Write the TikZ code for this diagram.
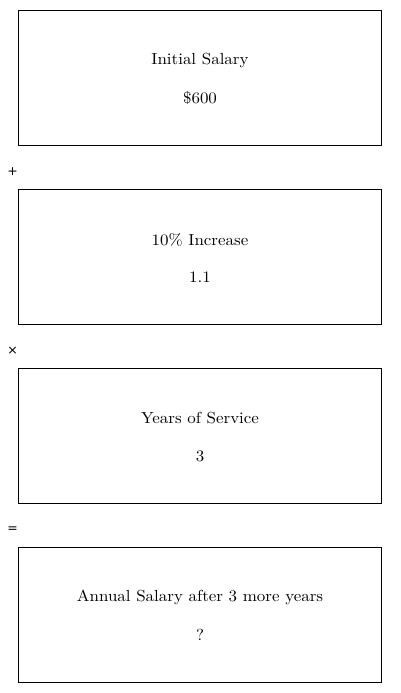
\documentclass[tikz,border=0pt]{standalone}
\usepackage{fontspec}
\newfontfamily\boxfont{lmroman10-regular.otf}[FakeStretch=1.06]
\newfontfamily\opfont{DejaVu Sans}
\begin{document}
\begin{tikzpicture}[x=1pt,y=1pt,
  box/.style={draw,line width=1pt,minimum width=363pt,minimum height=135pt,anchor=north west,inner sep=0pt},
  txt/.style={font=\boxfont\fontsize{16}{19}\selectfont},
  op/.style={font=\opfont\fontsize{12.5}{14}\selectfont}]
\useasboundingbox (0,0) rectangle (400,693);
\node[box] (b1) at (18,683) {};
\node[box] (b2) at (18,504) {};
\node[box] (b3) at (18,325) {};
\node[box] (b4) at (18,146) {};
\node[txt] (t1a) at ([yshift=17.5pt]b1.center) {Initial Salary};
\node[txt] (t1b) at ([yshift=-20pt]b1.center) {\$600};
\node[txt] (t2a) at ([yshift=17.5pt]b2.center) {10\% Increase};
\node[txt] (t2b) at ([yshift=-20pt]b2.center) {1.1};
\node[txt] (t3a) at ([yshift=17.5pt]b3.center) {Years of Service};
\node[txt] (t3b) at ([yshift=-20pt]b3.center) {3};
\node[txt] (t4a) at ([yshift=17.5pt]b4.center) {Annual Salary after 3 more years};
\node[txt] (t4b) at ([yshift=-20pt]b4.center) {?};
\node[op] (o1) at (12.5,521.5) {+};
\node[op] (o2) at (12.5,342.5) {×};
\node[op] (o3) at (12.5,163.5) {=};
\end{tikzpicture}
\end{document}
